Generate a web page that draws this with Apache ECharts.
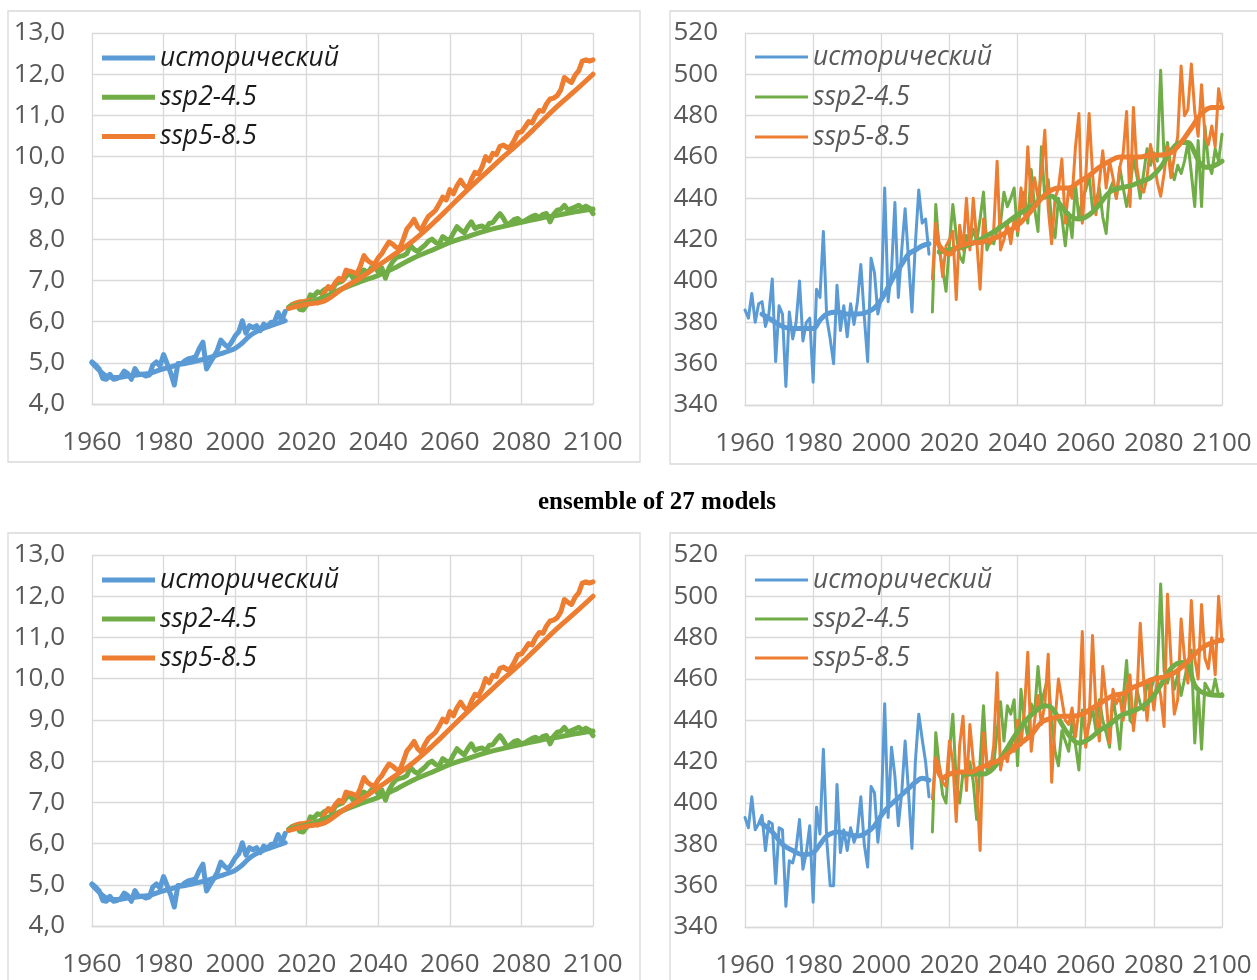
<!DOCTYPE html>
<html>
<head>
<meta charset="utf-8">
<title>ensemble of 27 models</title>
<script src="https://cdn.jsdelivr.net/npm/echarts@6/dist/echarts.min.js"></script>
<style>
  html, body { margin: 0; padding: 0; background: #ffffff; }
  #chart { width: 1257px; height: 980px; }
</style>
</head>
<body>
<div id="chart"></div>
<script>
// ---------- axis ticks ----------
const xTicks = { min: 1960, max: 2100, interval: 20 };
const tempTicks = { min: 4, max: 13, interval: 1 };
const ppmTicks = { min: 340, max: 520, interval: 20 };
const seriesNames = ['исторический', 'ssp2-4.5', 'ssp5-8.5'];
const HIST_START = 1960;
const SCEN_START = 2015;

// ---------- left panels: annual values ----------
const tempHist = [
  5.02, 4.95, 4.85, 4.62, 4.60, 4.72, 4.60, 4.62, 4.66, 4.80,
  4.74, 4.60, 4.86, 4.72, 4.72, 4.68, 4.70, 4.95, 5.02, 4.92,
  5.20, 4.98, 4.75, 4.46, 4.98, 4.98, 5.05, 5.10, 5.12, 5.15,
  5.35, 5.50, 4.85, 5.00, 5.14, 5.30, 5.55, 5.45, 5.38, 5.50,
  5.65, 5.75, 6.02, 5.72, 5.90, 5.85, 5.90, 5.78, 5.94, 5.88,
  5.98, 6.00, 6.22, 6.02, 6.25
];
const tempSsp245 = [
  6.35, 6.42, 6.45, 6.30, 6.28, 6.40, 6.65, 6.62, 6.72, 6.70,
  6.78, 6.82, 6.75, 6.90, 6.95, 6.98, 7.10, 7.18, 7.05, 7.10,
  7.20, 7.25, 7.18, 7.30, 7.33, 7.20, 7.30, 7.05, 7.30, 7.45,
  7.55, 7.58, 7.60, 7.65, 7.85, 7.75, 7.70, 7.78, 7.85, 7.95,
  8.00, 7.92, 7.88, 8.06, 8.00, 7.98, 8.15, 8.30, 8.22, 8.15,
  8.30, 8.42, 8.26, 8.30, 8.32, 8.25, 8.38, 8.40, 8.52, 8.62,
  8.50, 8.34, 8.40, 8.48, 8.50, 8.42, 8.45, 8.50, 8.55, 8.58,
  8.52, 8.60, 8.62, 8.42, 8.60, 8.70, 8.72, 8.82, 8.70, 8.74,
  8.78, 8.82, 8.75, 8.80, 8.75, 8.62
];
const tempSsp585 = [
  6.32, 6.40, 6.45, 6.48, 6.48, 6.50, 6.52, 6.48, 6.45, 6.55,
  6.72, 6.85, 6.80, 6.95, 7.05, 7.00, 7.25, 7.22, 7.20, 7.15,
  7.35, 7.60, 7.48, 7.42, 7.40, 7.55, 7.65, 7.80, 7.93, 7.88,
  7.80, 7.78, 8.00, 8.25, 8.35, 8.48, 8.30, 8.22, 8.40, 8.55,
  8.62, 8.70, 8.85, 9.02, 8.95, 9.20, 9.10, 9.30, 9.43, 9.30,
  9.22, 9.45, 9.62, 9.58, 9.75, 10.00, 9.90, 10.08, 10.05, 10.25,
  10.28, 10.22, 10.25, 10.40, 10.58, 10.60, 10.72, 10.85, 10.82, 11.00,
  11.12, 11.10, 11.28, 11.40, 11.42, 11.48, 11.62, 11.92, 11.85, 11.80,
  11.98, 12.08, 12.32, 12.35, 12.32, 12.35
];

// ---------- left panels: smoothed curves ----------
const tempHistSmoothYears = [1960, 1962, 1964, 1966, 1968, 1970, 1972, 1974, 1976, 1978,
  1980, 1982, 1984, 1986, 1988, 1990, 1992, 1994, 1996, 1998,
  2000, 2002, 2004, 2006, 2008, 2010, 2012, 2014];
const tempHistSmooth = [5.00, 4.82, 4.68, 4.64, 4.65, 4.68, 4.70, 4.72, 4.74, 4.80,
  4.85, 4.90, 4.95, 4.98, 5.02, 5.06, 5.10, 5.16, 5.22, 5.28,
  5.35, 5.48, 5.65, 5.76, 5.84, 5.90, 5.96, 6.02];
const tempScenSmoothYears = [2015, 2020, 2025, 2030, 2035, 2040, 2045, 2050, 2055,
  2060, 2065, 2070, 2075, 2080, 2085, 2090, 2095, 2100];
const tempSsp245Smooth = [6.35, 6.45, 6.60, 6.80, 6.97, 7.12, 7.32, 7.55, 7.73,
  7.92, 8.06, 8.20, 8.31, 8.41, 8.50, 8.58, 8.66, 8.73];
const tempSsp585Smooth = [6.32, 6.42, 6.50, 6.80, 7.06, 7.36, 7.66, 7.98, 8.36,
  8.78, 9.20, 9.60, 10.00, 10.38, 10.80, 11.22, 11.60, 12.00];

// ---------- upper right panel: annual values ----------
const ppmTopHist = [
  386, 382, 394, 380, 389, 390, 378, 384, 401, 361,
  388, 384, 349, 385, 372, 380, 400, 371, 380, 382,
  351, 396, 392, 424, 382, 372, 360, 398, 376, 388,
  373, 389, 379, 390, 408, 383, 361, 411, 404, 384,
  392, 445, 390, 405, 438, 392, 415, 435, 410, 385,
  418, 444, 428, 430, 413
];
const ppmTopSsp245 = [
  385, 437, 415, 406, 395, 418, 437, 422, 412, 409,
  422, 418, 425, 419, 430, 443, 415, 420, 418, 425,
  428, 443, 436, 440, 445, 422, 438, 443, 428, 454,
  435, 424, 465, 440, 449, 428, 421, 440, 431, 417,
  433, 421, 447, 430, 440, 444, 451, 435, 438, 445,
  431, 423, 444, 448, 440, 455, 445, 436, 445, 459,
  451, 440, 452, 464, 456, 462, 458, 502, 459, 467,
  455, 449, 456, 452, 458, 467, 452, 436, 468, 436,
  475, 457, 452, 464, 458, 471
];
const ppmTopSsp585 = [
  401, 428, 418, 402, 417, 420, 424, 391, 427, 415,
  440, 415, 440, 420, 396, 430, 420, 418, 425, 458,
  415, 420, 428, 418, 430, 424, 445, 432, 465, 438,
  450, 440, 452, 473, 435, 418, 440, 445, 459, 428,
  445, 440, 465, 481, 428, 450, 481, 452, 432, 448,
  463, 445, 458, 450, 440, 455, 462, 482, 436, 484,
  455, 445, 443, 450, 466, 458, 448, 441, 452, 465,
  450, 460, 470, 504, 480, 483, 505, 482, 470, 495,
  470, 466, 475, 465, 493, 484
];
// ---------- upper right panel: smoothed curves ----------
const ppmTopHistSmoothYears = [1965, 1968, 1971, 1974, 1977, 1980, 1982, 1984, 1987, 1990,
  1993, 1996, 1998, 2000, 2002, 2004, 2006, 2008, 2010, 2012, 2014];
const ppmTopHistSmooth = [384, 381, 378, 377, 377, 377, 381, 384, 385, 384,
  384, 385, 387, 391, 397, 403, 408, 413, 415, 417, 418];
const ppmTopSsp245SmoothYears = [2017, 2020, 2025, 2030, 2035, 2040, 2045, 2048, 2050, 2052,
  2055, 2058, 2061, 2064, 2067, 2070, 2073, 2076, 2079, 2082,
  2085, 2088, 2090, 2092, 2094, 2096, 2098, 2100];
const ppmTopSsp245Smooth = [414, 415, 417, 421, 426, 432, 437, 441, 441, 438,
  432, 430, 432, 437, 443, 445, 446, 448, 450, 455,
  463, 467, 467, 462, 456, 455, 456, 458];
const ppmTopSsp585SmoothYears = [2016, 2018, 2020, 2022, 2025, 2030, 2035, 2040, 2043, 2046,
  2049, 2052, 2055, 2058, 2061, 2064, 2067, 2070, 2073, 2076,
  2079, 2082, 2085, 2088, 2091, 2094, 2097, 2100];
const ppmTopSsp585Smooth = [420, 415, 413, 416, 418, 419, 422, 427, 432, 438,
  443, 445, 445, 448, 451, 455, 458, 460, 460, 460,
  461, 461, 462, 467, 474, 481, 484, 484];

// ---------- lower right panel: annual values ----------
const ppmLowHist = [
  393, 388, 403, 387, 390, 394, 377, 391, 390, 361,
  388, 387, 350, 372, 371, 378, 392, 368, 376, 389,
  352, 398, 385, 426, 382, 360, 360, 409, 376, 387,
  377, 388, 381, 386, 403, 380, 369, 408, 405, 381,
  397, 448, 393, 427, 413, 389, 405, 430, 405, 378,
  420, 443, 431, 420, 403
];
const ppmLowSsp245 = [
  386, 434, 418, 404, 400, 425, 443, 410, 400, 415,
  412, 420, 410, 392, 420, 447, 416, 420, 418, 435,
  449, 430, 447, 443, 450, 418, 455, 440, 432, 448,
  444, 466, 448, 455, 461, 440, 425, 418, 435, 430,
  425, 440, 428, 416, 445, 432, 438, 446, 435, 450,
  440, 434, 427, 452, 440, 426, 450, 469, 440, 438,
  455, 448, 445, 458, 454, 460, 462, 506, 464, 458,
  465, 455, 462, 452, 460, 468, 474, 429, 455, 426,
  458, 455, 452, 460, 452, 453
];
const ppmLowSsp585 = [
  402, 422, 418, 410, 408, 430, 420, 391, 428, 442,
  406, 438, 420, 410, 377, 434, 420, 415, 428, 463,
  416, 425, 420, 430, 425, 440, 428, 445, 473, 425,
  440, 452, 438, 448, 472, 410, 440, 460, 450, 440,
  438, 446, 432, 445, 483, 427, 440, 481, 445, 430,
  466, 450, 429, 455, 448, 452, 440, 455, 462, 435,
  450, 487, 460, 440, 458, 445, 460, 452, 437, 501,
  470, 443, 450, 489, 470, 458, 498, 470, 460, 496,
  470, 465, 480, 462, 500, 478
];
// ---------- lower right panel: smoothed curves ----------
const ppmLowHistSmoothYears = [1965, 1968, 1971, 1974, 1977, 1980, 1982, 1984, 1987, 1990,
  1993, 1996, 1998, 2000, 2002, 2004, 2006, 2008, 2010, 2012, 2014];
const ppmLowHistSmooth = [390, 386, 380, 377, 375, 376, 380, 384, 386, 385,
  384, 386, 389, 394, 398, 401, 404, 407, 410, 412, 411];
const ppmLowSsp245SmoothYears = [2024, 2027, 2030, 2033, 2036, 2039, 2042, 2045, 2048, 2050,
  2052, 2055, 2058, 2061, 2064, 2067, 2070, 2073, 2076, 2079,
  2082, 2085, 2088, 2090, 2092, 2095, 2100];
const ppmLowSsp245Smooth = [414, 414, 414, 417, 424, 432, 439, 444, 447, 446,
  441, 433, 429, 431, 435, 438, 442, 444, 446, 450,
  457, 465, 468, 467, 457, 453, 452];
const ppmLowSsp585SmoothYears = [2016, 2018, 2020, 2023, 2026, 2029, 2032, 2035, 2038, 2041,
  2044, 2047, 2050, 2053, 2056, 2059, 2062, 2065, 2068, 2071,
  2074, 2077, 2080, 2083, 2086, 2089, 2092, 2095, 2098, 2100];
const ppmLowSsp585Smooth = [420, 412, 414, 415, 415, 417, 419, 421, 425, 429,
  433, 439, 441, 442, 442, 443, 446, 449, 452, 453,
  456, 458, 460, 461, 463, 467, 472, 476, 478, 479];

// ---------- helpers ----------
const COLORS = ['#5b9bd5', '#70ad47', '#ed7d31'];
const GRID_COLOR = '#d9d9d9';
const LABEL_COLOR = '#595959';
const FONT = '"Open Sans", "Noto Sans", sans-serif';

const yearly = (start, values) => values.map((v, i) => [start + i, v]);
const paired = (years, values) => years.map((y, i) => [y, values[i]]);

const panels = [
  {
    grid: { left: 92, top: 33, width: 501, height: 371 },
    ticks: tempTicks, comma: true, legend: { left: 102, top: 43, gap: 9.2 },
    legendColor: '#1a1a1a', iconH: 5, annualW: 5, smoothW: 5,
    annual: [yearly(HIST_START, tempHist), yearly(SCEN_START, tempSsp245), yearly(SCEN_START, tempSsp585)],
    smooth: [paired(tempHistSmoothYears, tempHistSmooth), paired(tempScenSmoothYears, tempSsp245Smooth),
             paired(tempScenSmoothYears, tempSsp585Smooth)]
  },
  {
    grid: { left: 745, top: 33, width: 477, height: 372 },
    ticks: ppmTicks, comma: false, legend: { left: 755, top: 42, gap: 10 },
    legendColor: LABEL_COLOR, iconH: 3, annualW: 3, smoothW: 5,
    annual: [yearly(HIST_START, ppmTopHist), yearly(SCEN_START, ppmTopSsp245), yearly(SCEN_START, ppmTopSsp585)],
    smooth: [paired(ppmTopHistSmoothYears, ppmTopHistSmooth), paired(ppmTopSsp245SmoothYears, ppmTopSsp245Smooth),
             paired(ppmTopSsp585SmoothYears, ppmTopSsp585Smooth)]
  },
  {
    grid: { left: 92, top: 555, width: 501, height: 371 },
    ticks: tempTicks, comma: true, legend: { left: 102, top: 565, gap: 9 },
    legendColor: '#1a1a1a', iconH: 5, annualW: 5, smoothW: 5,
    annual: [yearly(HIST_START, tempHist), yearly(SCEN_START, tempSsp245), yearly(SCEN_START, tempSsp585)],
    smooth: [paired(tempHistSmoothYears, tempHistSmooth), paired(tempScenSmoothYears, tempSsp245Smooth),
             paired(tempScenSmoothYears, tempSsp585Smooth)]
  },
  {
    grid: { left: 745, top: 555, width: 477, height: 372 },
    ticks: ppmTicks, comma: false, legend: { left: 755, top: 565, gap: 9 },
    legendColor: LABEL_COLOR, iconH: 3, annualW: 3, smoothW: 5,
    annual: [yearly(HIST_START, ppmLowHist), yearly(SCEN_START, ppmLowSsp245), yearly(SCEN_START, ppmLowSsp585)],
    smooth: [paired(ppmLowHistSmoothYears, ppmLowHistSmooth), paired(ppmLowSsp245SmoothYears, ppmLowSsp245Smooth),
             paired(ppmLowSsp585SmoothYears, ppmLowSsp585Smooth)]
  }
];

const grids = [], xAxes = [], yAxes = [], legends = [], series = [];

panels.forEach((p, k) => {
  grids.push(Object.assign({ containLabel: false }, p.grid));
  xAxes.push({
    type: 'value', gridIndex: k,
    min: xTicks.min, max: xTicks.max, interval: xTicks.interval,
    axisLine: { show: true, lineStyle: { color: GRID_COLOR, width: 1.3 } },
    axisTick: { show: false },
    splitLine: { show: true, lineStyle: { color: GRID_COLOR, width: 1.3 } },
    axisLabel: { color: LABEL_COLOR, fontSize: 26, fontFamily: FONT, margin: 26,
                 formatter: (v) => String(v) }
  });
  yAxes.push({
    type: 'value', gridIndex: k,
    min: p.ticks.min, max: p.ticks.max, interval: p.ticks.interval,
    axisLine: { show: false },
    axisTick: { show: false },
    splitLine: { show: true, lineStyle: { color: GRID_COLOR, width: 1.3 } },
    axisLabel: {
      color: LABEL_COLOR, fontSize: 26, fontFamily: FONT, margin: 27,
      formatter: p.comma ? (v) => v.toFixed(1).replace('.', ',') : (v) => String(v)
    }
  });
  legends.push({
    data: seriesNames, orient: 'vertical', left: p.legend.left, top: p.legend.top,
    padding: 0, itemGap: p.legend.gap, itemWidth: 53, itemHeight: p.iconH,
    icon: 'rect', selectedMode: false,
    textStyle: { color: p.legendColor, fontSize: 26.5, fontStyle: 'italic', fontFamily: FONT, lineHeight: 30 }
  });
  // year-by-year lines
  p.annual.forEach((d, i) => {
    series.push({
      name: seriesNames[i], type: 'line', xAxisIndex: k, yAxisIndex: k,
      data: d, showSymbol: false, symbol: 'none', smooth: false, z: 2,
      lineStyle: { color: COLORS[i], width: p.annualW, join: 'round', cap: 'round' },
      itemStyle: { color: COLORS[i] }, silent: true, animation: false
    });
  });
  // smoothed trend lines
  p.smooth.forEach((d, i) => {
    series.push({
      name: seriesNames[i] + ' · тренд', type: 'line', xAxisIndex: k, yAxisIndex: k,
      data: d, showSymbol: false, symbol: 'none', smooth: 0.4, z: 3,
      lineStyle: { color: COLORS[i], width: p.smoothW, join: 'round', cap: 'round' },
      itemStyle: { color: COLORS[i] }, silent: true, animation: false
    });
  });
});

// chart-area frames and the shared heading
const frame = (x, y, w, h) => ({
  type: 'rect', shape: { x, y, width: w, height: h }, silent: true,
  style: { fill: 'none', stroke: GRID_COLOR, lineWidth: 1.3 }
});

const chart = echarts.init(document.getElementById('chart'), null, { renderer: 'canvas' });
chart.setOption({
  animation: false,
  backgroundColor: '#ffffff',
  grid: grids, xAxis: xAxes, yAxis: yAxes, legend: legends, series,
  graphic: [
    frame(8, 11, 632, 451),
    frame(670, 11, 600, 453),
    frame(8, 533, 632, 470),
    frame(670, 533, 600, 470),
    {
      type: 'text', x: 657, y: 503, silent: true,
      style: {
        text: 'ensemble of 27 models', fill: '#000000',
        font: 'bold 25px "Liberation Serif", "Times New Roman", serif',
        textAlign: 'center', textVerticalAlign: 'middle'
      }
    }
  ]
});
</script>
</body>
</html>
